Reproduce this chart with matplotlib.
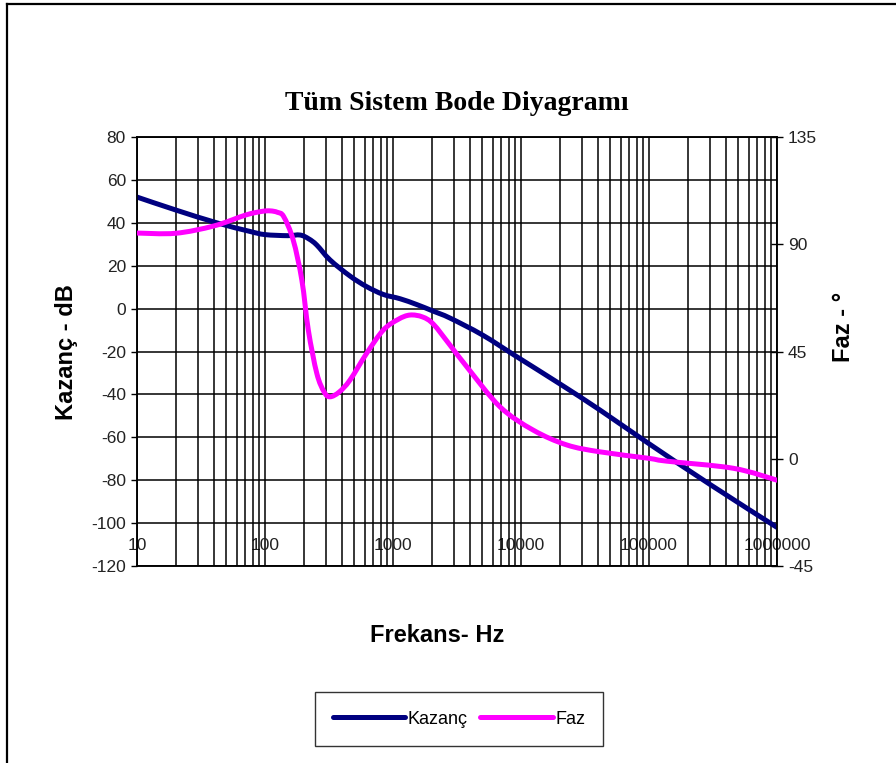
import matplotlib
matplotlib.use("Agg")
import matplotlib.pyplot as plt
import numpy as np
from matplotlib.lines import Line2D
from matplotlib.path import Path
from matplotlib.patches import PathPatch
from matplotlib.transforms import IdentityTransform
from matplotlib.ticker import LogLocator, NullFormatter, FixedLocator

plt.rcParams["axes.unicode_minus"] = False

# ---- data ----
freq_gain = [10, 20, 42, 76, 100, 150, 188, 220, 254, 322, 461, 620, 840, 1135, 1531,
             2065, 2786, 5000, 9250, 20000, 41400, 98900, 300000, 1000000]
gain_db = [52, 46, 40, 36, 34.5, 34, 34.3, 32.5, 29.6, 22.7, 15.2, 10.3, 6.6, 4.6, 1.9,
           -1.2, -4.4, -12.3, -22.4, -35.0, -47.3, -62.8, -82.0, -102.0]

freq_phase = [10, 20, 40, 71, 95, 110, 125, 140, 166, 194, 218, 254, 290, 322, 380, 461,
              622, 840, 1100, 1358, 1700, 2065, 2786, 3770, 6850, 12470, 22760, 41400,
              98900, 137000, 456000, 1000000]
phase_deg = [94.7, 94.6, 97.7, 102.3, 103.8, 104.0, 103.4, 101.6, 91.8, 75, 54, 35.8, 28.0,
             26.0, 28.0, 33, 44.2, 54, 58.5, 60.3, 59.5, 56.5, 47.7, 38.6, 21.8, 12,
             5.8, 2.9, 0.2, -1, -4, -9]

x_ticks = [10, 100, 1000, 10000, 100000, 1000000]
x_ticklabels = ["10", "100", "1000", "10000", "100000", "1000000"]
left_ticks = list(range(-120, 81, 20))
right_ticks = [-45, 0, 45, 90, 135]

title = "Tüm Sistem Bode Diyagramı"
xlabel = "Frekans- Hz"
ylabel_left = "Kazanç - dB"
ylabel_right = "Faz - °"
legend_labels = ["Kazanç", "Faz"]

# ---- figure ----
W, H = 896, 763
fig = plt.figure(figsize=(W / 100, H / 100), dpi=100)
fig.patch.set_facecolor("white")

L, R, T, B = 137, 777, 137, 566
ax = fig.add_axes([L / W, 1 - B / H, (R - L) / W, (B - T) / H])
ax2 = ax.twinx()

sans = ["Liberation Sans", "DejaVu Sans"]
navy = "#000080"
magenta = "#FF00FF"

ax.set_xscale("log")
ax.set_xlim(10, 1e6)
ax.set_ylim(-120, 80)
ax2.set_ylim(-45, 135)

ax.xaxis.set_major_locator(FixedLocator(x_ticks))
ax.xaxis.set_minor_locator(LogLocator(base=10, subs=range(2, 10)))
ax.xaxis.set_minor_formatter(NullFormatter())
ax.set_yticks(left_ticks)
ax.grid(True, which="both", axis="x", color="black", linewidth=1.1)
ax.grid(True, which="major", axis="y", color="black", linewidth=1.1)
ax.set_axisbelow(True)

ax.set_xticklabels(x_ticklabels, fontsize=12.5, family=sans, color="#222222")
ax.tick_params(axis="x", which="both", length=0, pad=-20)
ax.tick_params(axis="y", which="major", length=4, width=1, direction="out",
               labelsize=12.5, pad=4)
for t in ax.get_yticklabels():
    t.set_family(sans)
    t.set_color("#222222")

ax2.set_yticks(right_ticks)
ax2.tick_params(axis="y", length=8, width=1, direction="inout", labelsize=12.5, pad=4)
for t in ax2.get_yticklabels():
    t.set_family(sans)
    t.set_color("#222222")

for a in (ax, ax2):
    for s in a.spines.values():
        s.set_color("black")
        s.set_linewidth(1.1)


def smooth_line(axis, xs, ys, color, lw):
    """Draw an Excel-style smoothed line (Catmull-Rom Bezier) through the data points."""
    pts = axis.transData.transform(np.column_stack([xs, ys]))
    n = len(pts)
    verts = [pts[0]]
    codes = [Path.MOVETO]
    for i in range(n - 1):
        p0 = pts[i - 1] if i > 0 else pts[i]
        p1 = pts[i]
        p2 = pts[i + 1]
        p3 = pts[i + 2] if i + 2 < n else pts[i + 1]
        c1 = p1 + (p2 - p0) / 6.0
        c2 = p2 - (p3 - p1) / 6.0
        verts += [c1, c2, p2]
        codes += [Path.CURVE4] * 3
    patch = PathPatch(Path(verts, codes), transform=IdentityTransform(), fill=False,
                      edgecolor=color, linewidth=lw, capstyle="round", joinstyle="round",
                      zorder=3)
    axis.add_patch(patch)
    return patch


smooth_line(ax, freq_gain, gain_db, navy, 3.6)
smooth_line(ax2, freq_phase, phase_deg, magenta, 3.6)

# titles and labels
fig.text(457 / W, 1 - 103 / H, title, ha="center", va="center", fontsize=20,
         fontweight="bold", family=["Liberation Serif", "DejaVu Serif"])
fig.text(437 / W, 1 - 635 / H, xlabel, ha="center", va="center", fontsize=17,
         fontweight="bold", family=sans)
fig.text(66 / W, 1 - 352 / H, ylabel_left, ha="center", va="center", rotation=90,
         fontsize=17, fontweight="bold", family=sans)
fig.text(843 / W, 1 - 327 / H, ylabel_right, ha="center", va="center", rotation=90,
         fontsize=17, fontweight="bold", family=sans)

# legend
h1 = Line2D([], [], color=navy, linewidth=3.6, solid_capstyle="round")
h2 = Line2D([], [], color=magenta, linewidth=3.6, solid_capstyle="round")
leg = fig.legend([h1, h2], legend_labels, loc="center",
                 bbox_to_anchor=(459 / W, 1 - 719 / H), ncol=2, frameon=True,
                 fancybox=False, edgecolor="black", prop={"family": sans, "size": 13},
                 handlelength=4.0, handletextpad=0.15, columnspacing=0.7,
                 borderpad=1.0, borderaxespad=0)
leg.get_frame().set_linewidth(1.0)

# outer frame (left and top edges visible)
fig.add_artist(Line2D([6.5 / W, 6.5 / W], [0, 1 - 3.5 / H], transform=fig.transFigure,
                      color="black", linewidth=1.6))
fig.add_artist(Line2D([6.5 / W, 1], [1 - 3.5 / H, 1 - 3.5 / H], transform=fig.transFigure,
                      color="black", linewidth=1.6))

fig.savefig("out.png", dpi=100, facecolor="white")
